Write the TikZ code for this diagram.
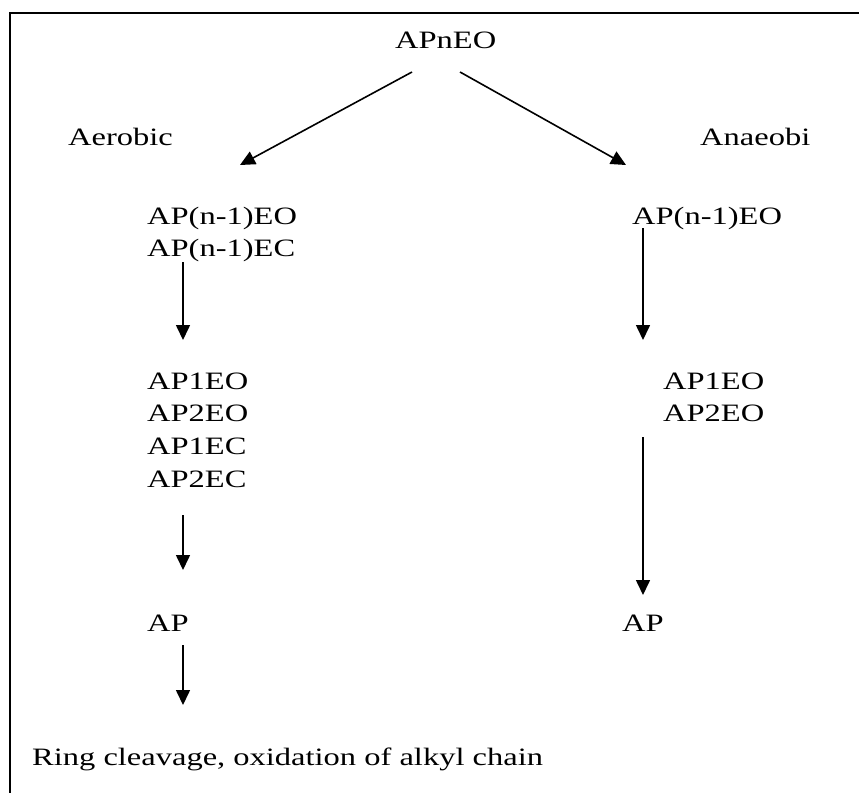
\documentclass[tikz,border=0pt]{standalone}
\usepackage{fontspec}
\setmainfont[FakeStretch=1.3]{Liberation Serif}
\usetikzlibrary{arrows.meta}
\tikzset{
  lbl/.style={anchor=base west, inner sep=0pt, font=\fontsize{25}{33}\selectfont},
  arr/.style={line width=1.6pt, -{Triangle[length=15pt,width=14pt]}},
  frame/.style={line width=2pt}
}
\begin{document}
\begin{tikzpicture}[x=1pt,y=-1pt]
\useasboundingbox (0,0) rectangle (859,793);
\draw[frame] (859,13) -- (10,13) -- (10,793);

\node[lbl] (top) at (395,48) {APnEO};
\node[lbl] (aer) at (68,145) {Aerobic};
\node[lbl] (ana) at (700,145) {Anaeobi};

\node[lbl] (la1) at (147,224) {AP(n-1)EO};
\node[lbl] (la2) at (147,256) {AP(n-1)EC};
\node[lbl] (lb1) at (147,389) {AP1EO};
\node[lbl] (lb2) at (147,421) {AP2EO};
\node[lbl] (lb3) at (147,454) {AP1EC};
\node[lbl] (lb4) at (147,487) {AP2EC};
\node[lbl] (lc) at (147,631) {AP};
\node[lbl] (ld) at (32,765) {Ring cleavage, oxidation of alkyl chain};

\node[lbl] (ra) at (632,224) {AP(n-1)EO};
\node[lbl] (rb1) at (663,389) {AP1EO};
\node[lbl] (rb2) at (663,421) {AP2EO};
\node[lbl] (rc) at (622,631) {AP};

\coordinate (d1s) at (412,72);  \coordinate (d1e) at (240,165);
\coordinate (d2s) at (460,72);  \coordinate (d2e) at (626,165);
\coordinate (l1s) at (183,262); \coordinate (l1e) at (183,340);
\coordinate (l2s) at (183,515); \coordinate (l2e) at (183,570);
\coordinate (l3s) at (183,645); \coordinate (l3e) at (183,705);
\coordinate (r1s) at (643,228); \coordinate (r1e) at (643,340);
\coordinate (r2s) at (643,437); \coordinate (r2e) at (643,595);

\draw[arr] (d1s) -- (d1e);
\draw[arr] (d2s) -- (d2e);
\draw[arr] (l1s) -- (l1e);
\draw[arr] (l2s) -- (l2e);
\draw[arr] (l3s) -- (l3e);
\draw[arr] (r1s) -- (r1e);
\draw[arr] (r2s) -- (r2e);
\end{tikzpicture}
\end{document}
